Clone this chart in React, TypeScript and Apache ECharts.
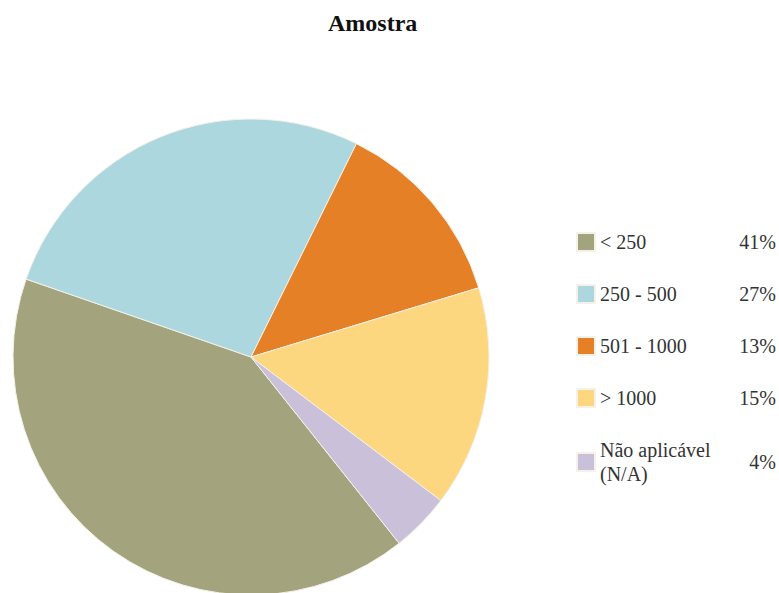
import React, { useEffect, useRef } from "react";
import * as echarts from "echarts";

const categories = ["< 250", "250 - 500", "501 - 1000", "> 1000", "Não aplicável\n(N/A)"];
const values = [41, 27, 13, 15, 4];
const colors = ["#A3A47E", "#ADD7DF", "#E58026", "#FDD77F", "#CBC0DA"];
const titleText = "Amostra";

const FONT = "'Liberation Serif', 'Times New Roman', serif";
const LINE = 24;
const ROW_GAP = 28;
const ICON = 18;
const LEGEND_TOP = 230;

export default function App() {
  const ref = useRef<HTMLDivElement>(null);
  useEffect(() => {
    if (!ref.current) return;
    const chart = echarts.init(ref.current, undefined, { renderer: "svg" });
    const lines = (n: string) => n.split("\n").length;
    const centres: number[] = [];
    let c = LEGEND_TOP + (LINE - ICON) / 2 + ICON / 2;
    categories.forEach((n, i) => {
      if (i > 0) {
        const prevH = LINE * lines(categories[i - 1]);
        const curH = LINE * lines(n);
        c += prevH / 2 + ROW_GAP + curH / 2;
      }
      centres.push(c);
    });
    chart.setOption({
      animation: false,
      backgroundColor: "#ffffff",
      textStyle: { fontFamily: FONT },
      title: {
        text: titleText,
        left: 328,
        top: 11,
        padding: 0,
        textStyle: { fontFamily: FONT, fontSize: 24, fontWeight: "bold", color: "#111" },
      },
      legend: {
        orient: "vertical",
        left: 576,
        top: LEGEND_TOP,
        padding: 0,
        itemWidth: ICON,
        itemHeight: ICON,
        itemGap: ROW_GAP,
        icon: "rect",
        selectedMode: false,
        data: categories,
        formatter: (n: string) => n.split("\n").map((s) => `{n|${s}}`).join("\n"),
        textStyle: {
          fontFamily: FONT,
          fontSize: 20,
          color: "#333",
          lineHeight: LINE,
          rich: { n: { fontFamily: FONT, fontSize: 20, color: "#333", lineHeight: LINE } },
        },
      },
      graphic: values.map((v, i) => ({
        type: "text",
        right: 3,
        top: centres[i] - 12,
        silent: true,
        style: {
          text: `{p|${v}%}`,
          rich: { p: { fontFamily: FONT, fontSize: 20, fill: "#333", lineHeight: LINE } },
          fontFamily: FONT,
          fontSize: 20,
          fill: "#333",
          lineHeight: LINE,
        },
      })),
      series: [
        {
          type: "pie",
          center: [251, 357],
          radius: 238,
          startAngle: 308.5,
          clockwise: true,
          label: { show: false },
          labelLine: { show: false },
          emphasis: { disabled: true },
          itemStyle: { borderColor: "#F4F1E8", borderWidth: 1 },
          data: categories.map((n, i) => ({ name: n, value: values[i], itemStyle: { color: colors[i] } })),
        },
      ],
    });
    return () => chart.dispose();
  }, []);
  return <div ref={ref} style={{ width: 779, height: 593, position: "absolute", left: 0, top: 0 }} />;
}
